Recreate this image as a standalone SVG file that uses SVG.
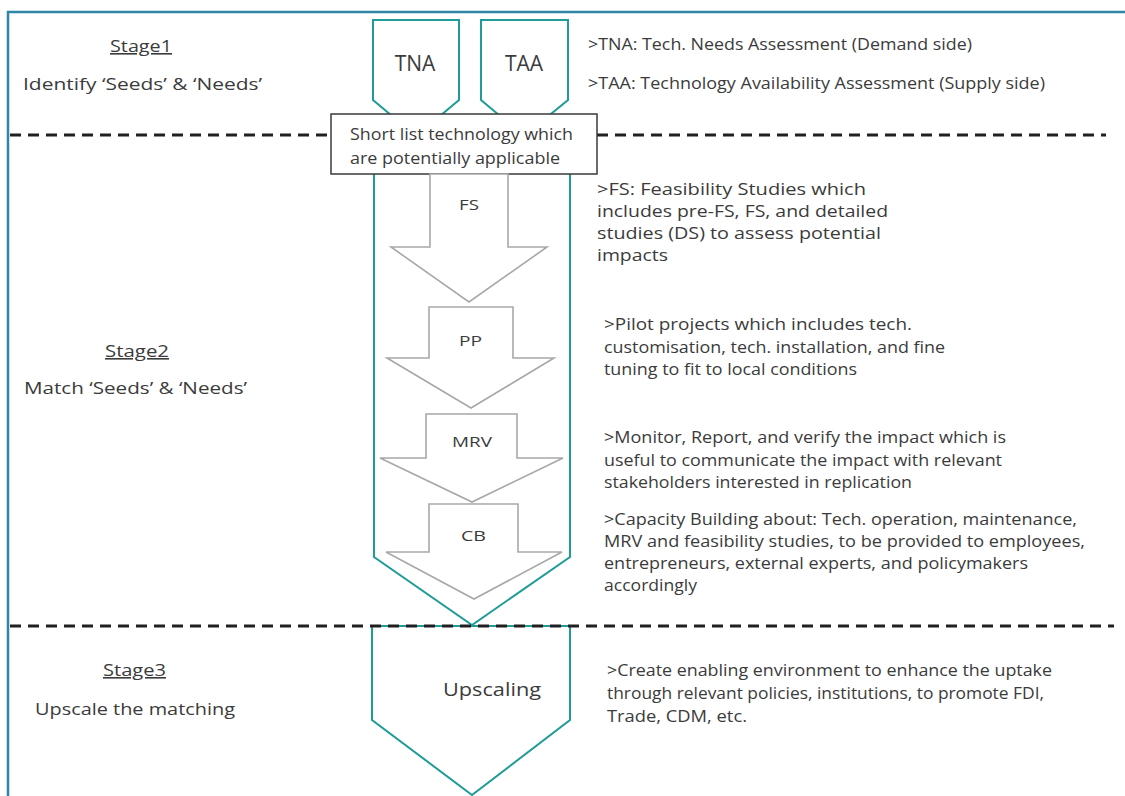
<svg xmlns="http://www.w3.org/2000/svg" width="1125" height="796" viewBox="0 0 1125 796">
<style>
text{font-family:"Open Sans","Liberation Sans",sans-serif;fill:#3b3b3b}
.t{font-size:16px}
.lbl{font-size:15px}
.big{font-size:21px;text-anchor:middle}
.teal{fill:#fff;stroke:#1f9c97;stroke-width:2}
.gray{fill:#fff;stroke:#a8a8a8;stroke-width:1.6}
.dash{stroke:#231f20;stroke-width:3;stroke-dasharray:11 7;fill:none}
.stage{font-size:16px;text-decoration:underline}
</style>
<rect width="1125" height="796" fill="#fff"/>
<g id="frame"><path d="M8 796 V12 H1125" fill="none" stroke="#2e87a6" stroke-width="2.5"/></g>

<g id="stage2-container"><polygon class="teal" points="374,140 570,140 570,557 472,625 374,557"/></g>
<g id="tna"><polygon class="teal" points="373,20 459,20 459,100 416,136 373,100"/><text class="big" x="415" y="71">TNA</text></g>
<g id="taa"><polygon class="teal" points="481,20 568,20 568,100 524,136 481,100"/><text class="big" x="524" y="71">TAA</text></g>
<g id="upscaling"><polygon class="teal" points="372,626 570,626 570,720 472,795 372,720"/><text x="443" y="696" style="font-size:19px" textLength="98" lengthAdjust="spacingAndGlyphs">Upscaling</text></g>

<g id="connectors">
<line class="dash" x1="10" y1="135" x2="331" y2="135"/>
<line class="dash" x1="597" y1="135" x2="1106" y2="135"/>
<line class="dash" x1="10" y1="626" x2="1114" y2="626"/>
</g>

<g id="shortlist"><rect x="331" y="114" width="266" height="60" fill="#fff" stroke="#3a3a3a" stroke-width="1.5"/>
<text class="t" x="350" y="140" textLength="223" lengthAdjust="spacingAndGlyphs">Short list technology which</text>
<text class="t" x="350" y="164" textLength="210" lengthAdjust="spacingAndGlyphs">are potentially applicable</text></g>

<g id="fs"><polygon class="gray" points="430,174 508,174 508,247 547,247 469,302 391,247 430,247"/><text class="lbl" x="459" y="210" textLength="20" lengthAdjust="spacingAndGlyphs">FS</text></g>
<g id="pp"><polygon class="gray" points="429,307 513,307 513,358 554,358 471,408 387,358 429,358"/><text class="lbl" x="459" y="346" textLength="23" lengthAdjust="spacingAndGlyphs">PP</text></g>
<g id="mrv"><polygon class="gray" points="426,414 517,414 517,458 563,458 472,502 380,458 426,458"/><text class="lbl" x="452" y="447" textLength="40" lengthAdjust="spacingAndGlyphs">MRV</text></g>
<g id="cb"><polygon class="gray" points="429,504 518,504 518,552 562,552 474,599 386,552 429,552"/><text class="lbl" x="461" y="541" textLength="25" lengthAdjust="spacingAndGlyphs">CB</text></g>

<g id="stage-labels">
<text class="stage" x="110" y="52" textLength="62" lengthAdjust="spacingAndGlyphs">Stage1</text>
<text class="t" x="23" y="90" textLength="239" lengthAdjust="spacingAndGlyphs">Identify ‘Seeds’ &amp; ‘Needs’</text>
<text class="stage" x="105" y="357" textLength="64" lengthAdjust="spacingAndGlyphs">Stage2</text>
<text class="t" x="24" y="394" textLength="223" lengthAdjust="spacingAndGlyphs">Match ‘Seeds’ &amp; ‘Needs’</text>
<text class="stage" x="103" y="676" textLength="63" lengthAdjust="spacingAndGlyphs">Stage3</text>
<text class="t" x="35" y="715" textLength="200" lengthAdjust="spacingAndGlyphs">Upscale the matching</text>
</g>

<g id="descriptions">
<text class="t" x="588" y="50" textLength="384" lengthAdjust="spacingAndGlyphs">&gt;TNA: Tech. Needs Assessment (Demand side)</text>
<text class="t" x="588" y="89" textLength="457" lengthAdjust="spacingAndGlyphs">&gt;TAA: Technology Availability Assessment (Supply side)</text>
<text class="t" x="597" y="195" textLength="269" lengthAdjust="spacingAndGlyphs">&gt;FS: Feasibility Studies which</text>
<text class="t" x="597" y="217" textLength="291" lengthAdjust="spacingAndGlyphs">includes pre-FS, FS, and detailed</text>
<text class="t" x="597" y="239" textLength="284" lengthAdjust="spacingAndGlyphs">studies (DS) to assess potential</text>
<text class="t" x="597" y="261" textLength="71" lengthAdjust="spacingAndGlyphs">impacts</text>
<text class="t" x="604" y="330" textLength="308" lengthAdjust="spacingAndGlyphs">&gt;Pilot projects which includes tech.</text>
<text class="t" x="604" y="353" textLength="341" lengthAdjust="spacingAndGlyphs">customisation, tech. installation, and fine</text>
<text class="t" x="604" y="375" textLength="253" lengthAdjust="spacingAndGlyphs">tuning to fit to local conditions</text>
<text class="t" x="604" y="443" textLength="402" lengthAdjust="spacingAndGlyphs">&gt;Monitor, Report, and verify the impact which is</text>
<text class="t" x="604" y="466" textLength="398" lengthAdjust="spacingAndGlyphs">useful to communicate the impact with relevant</text>
<text class="t" x="604" y="488" textLength="308" lengthAdjust="spacingAndGlyphs">stakeholders interested in replication</text>
<text class="t" x="604" y="525" textLength="473" lengthAdjust="spacingAndGlyphs">&gt;Capacity Building about: Tech. operation, maintenance,</text>
<text class="t" x="604" y="547" textLength="481" lengthAdjust="spacingAndGlyphs">MRV and feasibility studies, to be provided to employees,</text>
<text class="t" x="604" y="569" textLength="424" lengthAdjust="spacingAndGlyphs">entrepreneurs, external experts, and policymakers</text>
<text class="t" x="604" y="591" textLength="93" lengthAdjust="spacingAndGlyphs">accordingly</text>
<text class="t" x="607" y="676" textLength="445" lengthAdjust="spacingAndGlyphs">&gt;Create enabling environment to enhance the uptake</text>
<text class="t" x="607" y="699" textLength="437" lengthAdjust="spacingAndGlyphs">through relevant policies, institutions, to promote FDI,</text>
<text class="t" x="607" y="722" textLength="140" lengthAdjust="spacingAndGlyphs">Trade, CDM, etc.</text>
</g>
</svg>
